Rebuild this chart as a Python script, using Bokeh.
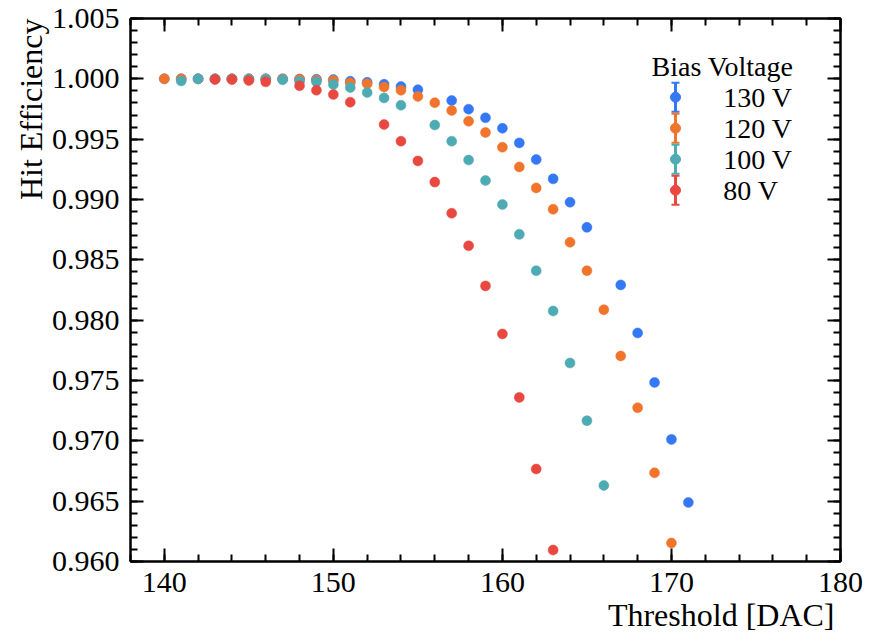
import numpy as np
from bokeh.plotting import figure
from bokeh.models import (Range1d, FixedTicker, PrintfTickFormatter, CustomJSTickFormatter,
                          LinearAxis, Title, Label)
from bokeh.embed import file_html
from bokeh.resources import INLINE

# ---------------- data ----------------
series_labels = ["130 V", "120 V", "100 V", "80 V"]
series_colors = ["#3478F6", "#F0742B", "#4EABB4", "#E84840"]

thr_130 = [140, 141, 142, 143, 144, 145, 146, 147, 148, 149, 150, 151, 152, 153, 154, 155,
           157, 158, 159, 160, 161, 162, 163, 164, 165, 167, 168, 169, 170, 171]
eff_130 = [1.0000, 1.0000, 1.0000, 1.0000, 1.0000, 1.0000, 1.0000, 1.0000, 0.99998, 0.99996,
           0.99994, 0.99980, 0.99971, 0.99955, 0.99936, 0.99910,
           0.99820, 0.99748, 0.99677, 0.99590, 0.99469, 0.99331, 0.99171, 0.98977, 0.98769,
           0.98292, 0.97894, 0.97484, 0.97012, 0.96489]

thr_120 = [140, 141, 142, 143, 144, 145, 146, 147, 148, 149, 150, 151, 152, 153, 154, 155,
           156, 157, 158, 159, 160, 161, 162, 163, 164, 165, 166, 167, 168, 169, 170]
eff_120 = [1.0000, 1.0000, 1.0000, 1.0000, 1.0000, 1.0000, 0.99999, 0.99999, 0.99997, 0.99990,
           0.99986, 0.99967, 0.99959, 0.99932, 0.99905, 0.99854,
           0.99802, 0.99737, 0.99648, 0.99555, 0.99433, 0.99270, 0.99096, 0.98919, 0.98645,
           0.98410, 0.98087, 0.97703, 0.97274, 0.96735, 0.96153]

thr_100 = [141, 142, 143, 144, 145, 146, 147, 148, 149, 150, 151, 152, 153, 154,
           156, 157, 158, 159, 160, 161, 162, 163, 164, 165, 166]
eff_100 = [0.99983, 1.0000, 0.99998, 0.99998, 0.99998, 0.99997, 0.99992, 0.99980, 0.99975,
           0.99953, 0.99928, 0.99886, 0.99842, 0.99781,
           0.99617, 0.99483, 0.99327, 0.99157, 0.98958, 0.98711, 0.98410, 0.98076, 0.97645,
           0.97167, 0.96630]

thr_80 = [143, 144, 145, 146, 148, 149, 150, 151, 153, 154, 155, 156, 157, 158, 159, 160,
          161, 162, 163]
eff_80 = [0.99994, 0.99994, 0.99986, 0.99975, 0.99942, 0.99905, 0.99870, 0.99806,
          0.99621, 0.99483, 0.99320, 0.99144, 0.98886, 0.98616, 0.98284, 0.97886,
          0.97360, 0.96766, 0.96095]

x_ticks = [140, 150, 160, 170, 180]
y_ticks = [0.960, 0.965, 0.970, 0.975, 0.980, 0.985, 0.990, 0.995, 1.000, 1.005]
x_label = "Threshold [DAC]"
y_label = "Hit Efficiency"
legend_title = "Bias Voltage"

# ---------------- figure ----------------
XS, XE = 138, 180
YS, YE = 0.960, 1.005
FONT = "Liberation Serif"

p = figure(frame_width=710, frame_height=543, output_backend="svg", toolbar_location=None,
           x_range=Range1d(XS, XE), y_range=Range1d(YS, YE),
           min_border_left=130, min_border_right=29, min_border_top=18, min_border_bottom=71)
p.xgrid.visible = False
p.ygrid.visible = False
p.outline_line_color = "black"
p.outline_line_width = 2
p.background_fill_color = "white"
p.border_fill_color = "white"

x_minor = list(np.arange(XS, XE + 0.5, 2))
y_minor = list(np.round(np.arange(YS, YE + 0.0005, 0.001), 3))
xticker = FixedTicker(ticks=x_ticks, minor_ticks=x_minor)
yticker = FixedTicker(ticks=y_ticks, minor_ticks=y_minor)

def style(ax):
    ax.axis_line_width = 2
    ax.axis_line_color = "black"
    ax.major_tick_in = 13
    ax.major_tick_out = 0
    ax.minor_tick_in = 7
    ax.minor_tick_out = 0
    ax.major_tick_line_width = 2
    ax.minor_tick_line_width = 2
    ax.major_tick_line_color = "black"
    ax.minor_tick_line_color = "black"
    ax.major_label_text_font = FONT
    ax.major_label_text_color = "black"

xa = p.xaxis[0]
ya = p.yaxis[0]
xa.ticker = xticker
ya.ticker = yticker
style(xa); style(ya)
xa.major_label_text_font_size = "30px"
ya.major_label_text_font_size = "30px"
xa.major_label_standoff = 11
ya.major_label_standoff = 11
ya.formatter = PrintfTickFormatter(format="%.3f")

blank = CustomJSTickFormatter(code="return ''")
top = LinearAxis(ticker=xticker, formatter=blank)
right = LinearAxis(ticker=yticker, formatter=blank)
for ax in (top, right):
    style(ax)
    ax.major_label_text_font_size = "1px"
    ax.major_label_standoff = 0
p.add_layout(top, "above")
p.add_layout(right, "right")

p.add_layout(Title(text=x_label, align="right", text_font=FONT, text_font_size="32px",
                   text_font_style="normal", text_color="black", standoff=0, offset=6), "below")
p.add_layout(Title(text=y_label, align="right", text_font=FONT, text_font_size="32px",
                   text_font_style="normal", text_color="black", standoff=0, offset=0), "left")

# ---------------- data points ----------------
all_x = [thr_130, thr_120, thr_100, thr_80]
all_y = [eff_130, eff_120, eff_100, eff_80]
for xv, yv, c in zip(all_x, all_y, series_colors):
    p.scatter(xv, yv, size=10, marker="circle", fill_color=c, line_color=c, line_width=0.5)

# ---------------- legend (error-bar style) ----------------
def fx(f): return XS + f * (XE - XS)
def fy(f): return YE - f * (YE - YS)

row0, row_step, half = 0.1449, 0.0571, 0.0267
gx = fx(0.7676)
for i, (lab, c) in enumerate(zip(series_labels, series_colors)):
    r = row0 + i * row_step
    p.segment(x0=[gx], y0=[fy(r - half)], x1=[gx], y1=[fy(r + half)], line_color=c, line_width=3)
    p.scatter([gx, gx], [fy(r - half), fy(r + half)], marker="dash", size=8, line_color=c, line_width=2)
    p.scatter([gx], [fy(r)], marker="circle", size=10, fill_color=c, line_color=c)
    p.add_layout(Label(x=fx(0.835), y=fy(r), text=lab, text_font=FONT, text_font_size="28px",
                       text_align="left", text_baseline="middle", text_color="black"))
p.add_layout(Label(x=fx(0.8338), y=fy(0.0893), text=legend_title, text_font=FONT,
                   text_font_size="28px", text_align="center", text_baseline="middle",
                   text_color="black"))

open("out.html", "w").write(file_html(p, INLINE))
